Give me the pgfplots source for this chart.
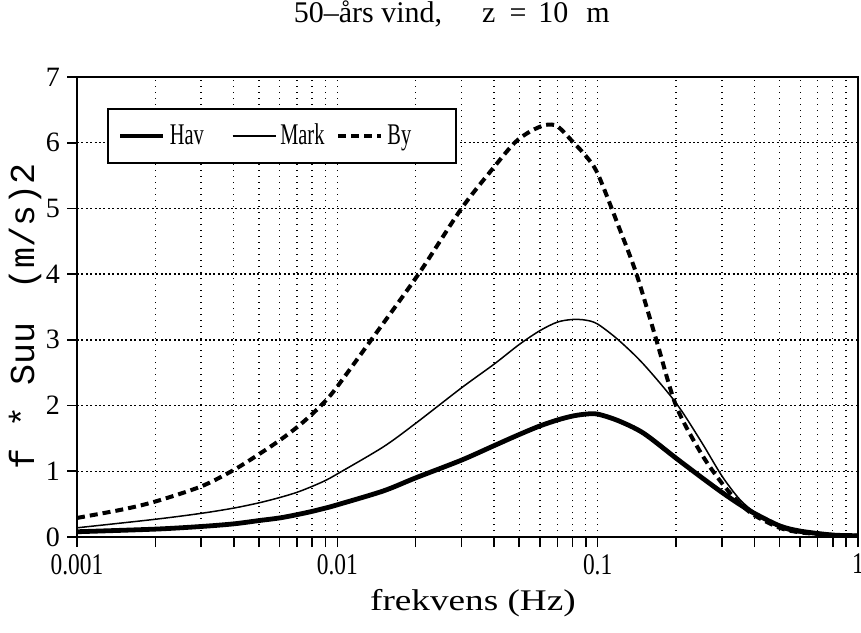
\documentclass[border=0pt]{standalone}
\usepackage{fontspec}
\setmainfont{Liberation Serif}
\setmonofont{Liberation Mono}
\usepackage{graphicx}
\usepackage{pgfplots}
\pgfplotsset{compat=1.18}
% horizontally squeezed text, as in the scanned plot
\newcommand{\cond}[2][0.78]{\scalebox{#1}[1]{#2}}

\begin{document}
\begin{tikzpicture}
\begin{axis}[
  scale only axis, width=390.5pt, height=230pt,
  xmode=log, xmin=0.001, xmax=1, ymin=0, ymax=7,
  xtick={0.001,0.01,0.1,1},
  xticklabels={\cond{0.001},\cond{0.01},\cond{0.1},\cond{1}},
  minor xtick={0.002,0.003,0.004,0.005,0.006,0.007,0.008,0.009,
    0.02,0.03,0.04,0.05,0.06,0.07,0.08,0.09,
    0.2,0.3,0.4,0.5,0.6,0.7,0.8,0.9},
  ytick={0,1,2,3,4,5,6,7},
  yticklabels={0,1,2,3,4,5,6,7},
  tick pos=left, tick align=outside,
  major tick length=5pt, minor tick length=5pt,
  tick style={black, line width=0.8pt},
  axis line style={line width=1pt},
  grid=both,
  major x grid style={black, line width=0.7pt, dash pattern=on 0.7pt off 2.3pt},
  minor x grid style={black, line width=0.7pt, dash pattern=on 0.7pt off 2.3pt},
  major y grid style={black, line width=0.7pt, dash pattern=on 1pt off 1.2pt},
  xticklabel style={font=\fontsize{15}{18}\selectfont},
  yticklabel style={font=\fontsize{14}{16}\selectfont},
  title={50–års vind,\hspace{20pt}z\hspace{7pt}=\hspace{6pt}10\hspace{9pt}m},
  title style={at={(axis description cs:0.48,1.112)}, anchor=center,
    font=\fontsize{15}{18}\selectfont},
  xlabel={\cond[1.24]{frekvens (Hz)}},
  xlabel style={at={(axis description cs:0.507,-0.1435)}, anchor=center,
    font=\fontsize{15}{18}\selectfont},
  ylabel={f * Suu\hspace{0.95em}(m/s)2},
  ylabel style={at={(axis description cs:-0.0666,0.48)}, anchor=center,
    font=\ttfamily\fontsize{17.5}{20}\selectfont},
  legend image code/.code={\draw[#1] (0pt,0pt) -- (21.5pt,0pt);},
  legend columns=-1,
  legend style={at={(axis description cs:0.0384,0.9326)}, anchor=north west,
    draw=black, line width=1pt, fill=white,
    font=\fontsize{15}{18}\selectfont,
    inner xsep=5pt, inner ysep=5.5pt,
    /tikz/column 2/.style={column sep=12pt},
    /tikz/column 4/.style={column sep=4pt}},
]
% Hav
\addplot[black, line width=2.4pt, smooth] coordinates {
(0.001,0.08) (0.002,0.12) (0.003,0.16) (0.004,0.20) (0.005,0.25)
(0.006,0.29) (0.007,0.34) (0.008,0.39) (0.009,0.44) (0.01,0.49)
(0.015,0.70) (0.02,0.90) (0.03,1.17) (0.04,1.39) (0.05,1.56)
(0.06,1.69) (0.07,1.78) (0.08,1.84) (0.09,1.87) (0.1,1.87)
(0.12,1.77) (0.15,1.58) (0.2,1.20) (0.25,0.91) (0.3,0.68)
(0.35,0.50) (0.4,0.36) (0.5,0.17) (0.6,0.09) (0.8,0.03) (1,0.02)};
% Mark
\addplot[black, line width=0.75pt, smooth] coordinates {
(0.001,0.14) (0.002,0.27) (0.003,0.36) (0.004,0.44) (0.005,0.52)
(0.006,0.60) (0.007,0.68) (0.008,0.77) (0.009,0.86) (0.01,0.96)
(0.015,1.37) (0.02,1.73) (0.03,2.27) (0.04,2.63) (0.05,2.93)
(0.06,3.14) (0.07,3.27) (0.08,3.31) (0.09,3.30) (0.1,3.24)
(0.12,3.00) (0.15,2.63) (0.2,2.04) (0.25,1.45) (0.3,0.93)
(0.35,0.58) (0.4,0.38) (0.5,0.14) (0.6,0.06) (0.8,0.02) (1,0.01)};
% By
\addplot[black, line width=2pt, dash pattern=on 4pt off 2.5pt, smooth] coordinates {
(0.001,0.29) (0.0015,0.42) (0.002,0.54) (0.003,0.77) (0.004,1.02)
(0.005,1.26) (0.006,1.47) (0.007,1.67) (0.008,1.87) (0.009,2.07)
(0.01,2.29) (0.0135,3.0) (0.0205,4.0) (0.03,5.0) (0.04,5.63)
(0.048,6.0) (0.055,6.17) (0.063,6.27) (0.07,6.25) (0.08,6.02)
(0.09,5.80) (0.1,5.53) (0.12,4.74) (0.141,4.0) (0.168,3.0)
(0.2,2.0) (0.25,1.27) (0.3,0.82) (0.35,0.52) (0.4,0.33)
(0.5,0.14) (0.6,0.07) (0.8,0.03) (1,0.02)};
\legend{\cond[0.68]{Hav},\cond[0.68]{Mark},\cond[0.68]{By}\hspace{15.5pt}\mbox{}}
\end{axis}
\pgfresetboundingbox
\useasboundingbox ([xshift=-38.5pt,yshift=-47.5pt]current axis.south west)
  rectangle ([xshift=1.5pt,yshift=38.5pt]current axis.north east);
\end{tikzpicture}
\end{document}
